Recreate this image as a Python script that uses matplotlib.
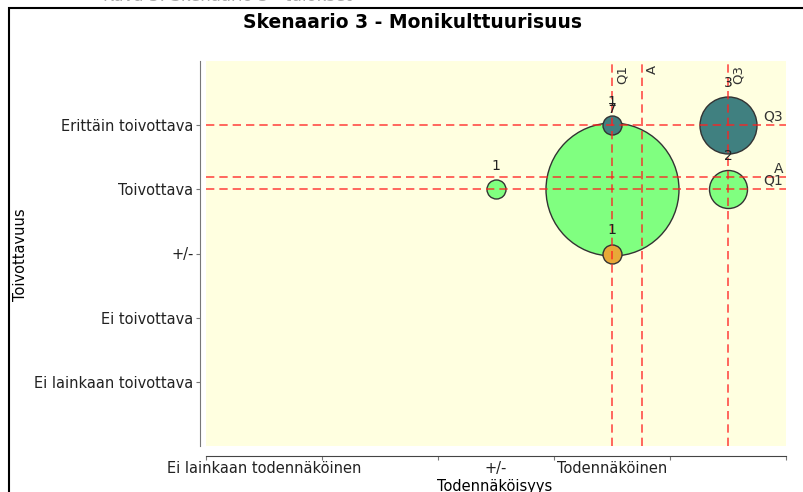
import matplotlib.pyplot as plt
from matplotlib.patches import Rectangle

# chart data
title = "Skenaario 3 - Monikulttuurisuus"
x_label = "Todennäköisyys"
y_label = "Toivottavuus"
x_tick_pos = [1, 3, 4]
x_tick_labels = ["Ei lainkaan todennäköinen", "+/-", "Todennäköinen"]
y_tick_pos = [1, 2, 3, 4, 5]
y_tick_labels = ["Ei lainkaan toivottava", "Ei toivottava", "+/-",
                 "Toivottava", "Erittäin toivottava"]

# bubbles: x, y, count, colour (series)
bub_x = [3, 4, 5, 4, 5, 4]
bub_y = [4, 4, 4, 5, 5, 3]
bub_n = [1, 7, 2, 1, 3, 1]
bub_c = ['#80ff80', '#80ff80', '#80ff80', '#408080', '#408080', '#e8a838']

# markers (name, value)
v_marks = [("Q1", 4.0), ("A", 4.26), ("Q3", 5.0)]
h_marks = [("Q3", 5.0), ("A", 4.19), ("Q1", 4.0)]

W, H = 804, 492
fig = plt.figure(figsize=(W / 100, H / 100), dpi=100)
fig.patch.set_facecolor('white')

# outer panel border (cut off on right/bottom)
fig.patches.append(Rectangle((9 / W, -0.1), 1.1, 1 - 8 / H + 0.1, transform=fig.transFigure,
                             fill=False, edgecolor='black', lw=1.5))
# cut-off caption at the very top
fig.text(227 / W, 1 + 4 / H, "Kuva 3: Skenaario 3 - tulokset", ha='center', va='center',
         fontsize=12, color='#aaaaaa')

ax = fig.add_axes([206 / W, 46 / H, 580 / W, 385 / H])
ax.set_facecolor('#ffffe0')
ax.set_xlim(0.5, 5.5)
ax.set_ylim(0, 6)

# bubbles, diameter grows with count
px = 0.72
for x, y, n, c in zip(bub_x, bub_y, bub_n, bub_c):
    d = 19 * n * px
    ax.scatter([x], [y], s=d ** 2, c=c, edgecolors='#333333', linewidths=1, zorder=2)
    ax.annotate(str(n), (x, y), xytext=(0, (9.5 * n + 14) * px), textcoords='offset points',
                ha='center', va='center', fontsize=10, color='#222222', zorder=4)

# marker lines
for name, v in v_marks:
    ax.axvline(v, color='#ff2020', alpha=0.8, lw=1.2, dashes=(5, 3), zorder=3)
    ax.annotate(name, (v, 6), xytext=(2.5, -3), textcoords='offset points', rotation=90,
                ha='left', va='top', fontsize=9.5, color='#333333')
for name, v in h_marks:
    ax.axhline(v, color='#ff2020', alpha=0.8, lw=1.2, dashes=(5, 3), zorder=3)
    ax.annotate(name, (5.5, v), xytext=(-2, 1), textcoords='offset points',
                ha='right', va='bottom', fontsize=10, color='#333333')

# axes styling
for s in ['top', 'right']:
    ax.spines[s].set_visible(False)
ax.spines['left'].set_position(('outward', 4))
ax.spines['bottom'].set_position(('outward', 7))
ax.spines['left'].set_color('#777777')
ax.spines['bottom'].set_color('#444444')

ax.set_yticks(y_tick_pos)
ax.set_yticklabels(y_tick_labels)
ax.tick_params(axis='y', length=3, width=0.8, color='#777777', pad=2, labelsize=10.5,
               labelcolor='#222222')

ax.set_xticks([0.5, 1.5, 2.5, 3.5, 4.5, 5.5])
ax.set_xticklabels([])
ax.set_xticks(x_tick_pos, minor=True)
ax.set_xticklabels(x_tick_labels, minor=True)
ax.tick_params(axis='x', which='major', length=3, width=0.8, color='#777777')
ax.tick_params(axis='x', which='minor', length=0, pad=4, labelsize=10.5, labelcolor='#222222')

fig.text(413 / W, 1 - 23 / H, title, ha='center', va='center', fontsize=13.5,
         fontweight='bold')
fig.text(21 / W, 1 - 255 / H, y_label, rotation=90, ha='center', va='center', fontsize=10.5)
fig.text(495 / W, 1 - 486 / H, x_label, ha='center', va='center', fontsize=10.5)

fig.savefig('out.png', dpi=100)
